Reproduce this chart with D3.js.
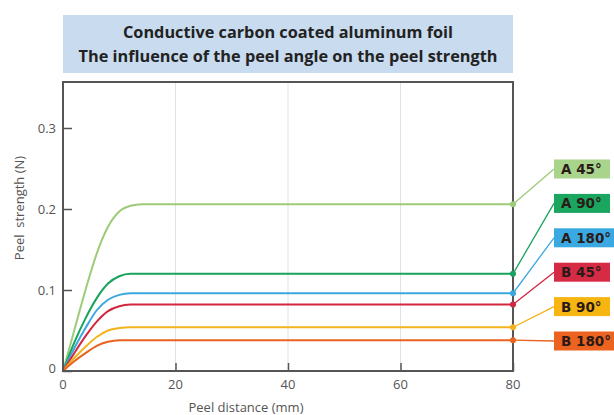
<!DOCTYPE html>
<html>
<head>
<meta charset="utf-8">
<title>Peel strength</title>
<style>
  body { margin: 0; background: #fff; }
  svg { display: block; }
  .tick-label { font-family: "Open Sans", sans-serif; font-size: 13px; fill: #555; }
</style>
</head>
<body>
<svg id="chart" width="614" height="415"></svg>

<script src="https://cdn.jsdelivr.net/npm/d3@7/dist/d3.min.js"></script>
<script>
// data
let distance = [0, 2, 4, 6, 8, 10, 12, 14, 80]
let seriesNames = ["A 45°", "A 90°", "A 180°", "B 45°", "B 90°", "B 180°"]
let a45 = [0, 0.05, 0.1, 0.145, 0.178, 0.197, 0.204, 0.206, 0.206]
let a90 = [0, 0.035, 0.065, 0.09, 0.108, 0.117, 0.12, 0.12, 0.12]
let a180 = [0, 0.028, 0.053, 0.075, 0.088, 0.094, 0.096, 0.096, 0.096]
let b45 = [0, 0.022, 0.043, 0.061, 0.074, 0.08, 0.082, 0.082, 0.082]
let b90 = [0, 0.016, 0.03, 0.042, 0.05, 0.053, 0.054, 0.054, 0.054]
let b180 = [0, 0.012, 0.022, 0.031, 0.036, 0.038, 0.038, 0.038, 0.038]
let xTicks = [0, 20, 40, 60, 80]
let yTicks = [0, 0.1, 0.2, 0.3]
let titleLines = ["Conductive carbon coated aluminum foil", "The influence of the peel angle on the peel strength"]

let lineColors = ["#9dcc78", "#18a35c", "#3aa8df", "#d3263f", "#f4b31a", "#e9621f"]
let boxColors = ["#a8d48c", "#1aa65e", "#3aa9e2", "#d62b45", "#f7b512", "#ec6320"]

let allSeries = [a45, a90, a180, b45, b90, b180].map((vals, i) => ({
  name: seriesNames[i],
  line: lineColors[i],
  box: boxColors[i],
  points: vals.map((v, j) => ({ x: distance[j], y: v }))
}))

let svg = d3.select("#chart")
let plotL = 63, plotR = 513, plotT = 82, plotB = 371

let x = d3.scaleLinear().domain([0, 80]).range([plotL, plotR])
let y = d3.scaleLinear().domain([0, 0.3]).range([plotB, plotB - 243])

// title panel
svg.append("rect").attr("x", plotL).attr("y", 15).attr("width", plotR - plotL).attr("height", 58)
  .attr("fill", "#c8dbef")
svg.append("text").text(titleLines[0]).attr("x", 288).attr("y", 38)
  .attr("text-anchor", "middle").attr("font-family", "Open Sans, sans-serif").attr("font-weight", "bold")
  .attr("font-size", "16px").attr("fill", "#222").attr("textLength", 330).attr("lengthAdjust", "spacingAndGlyphs")
svg.append("text").text(titleLines[1]).attr("x", 288).attr("y", 62)
  .attr("text-anchor", "middle").attr("font-family", "Open Sans, sans-serif").attr("font-weight", "bold")
  .attr("font-size", "16px").attr("fill", "#222").attr("textLength", 419).attr("lengthAdjust", "spacingAndGlyphs")

// vertical grid
svg.append("g").selectAll("line").data(xTicks.slice(1, -1)).join("line")
  .attr("x1", d => x(d)).attr("x2", d => x(d)).attr("y1", plotT).attr("y2", plotB)
  .attr("stroke", "#e2e2e2").attr("stroke-width", 1)

// axes with inward ticks
let xAxis = d3.axisTop(x).tickValues(xTicks).tickSize(8).tickFormat("")
svg.append("g").attr("transform", "translate(0," + plotB + ")").call(xAxis)
  .call(g => g.selectAll(".tick line").attr("stroke", "#555").attr("stroke-width", 1.5))
  .call(g => g.select(".domain").remove())
let yAxis = d3.axisRight(y).tickValues(yTicks).tickSize(9).tickFormat("")
svg.append("g").attr("transform", "translate(" + plotL + ",0)").call(yAxis)
  .call(g => g.selectAll(".tick line").attr("stroke", "#555").attr("stroke-width", 1.5))
  .call(g => g.select(".domain").remove())

svg.append("g").selectAll("text").data(xTicks).join("text")
  .attr("class", "tick-label").attr("x", d => x(d)).attr("y", 389).attr("text-anchor", "middle")
  .text(d => d)
svg.append("g").selectAll("text").data(yTicks).join("text")
  .attr("class", "tick-label").attr("x", 56).attr("y", d => d === 0 ? y(d) + 2 : y(d) + 4.5).attr("text-anchor", "end")
  .text(d => d === 0 ? "0" : d3.format(".1f")(d))

svg.append("text").attr("class", "tick-label").attr("x", 246).attr("y", 412)
  .attr("text-anchor", "middle").text("Peel distance (mm)")
svg.append("text").attr("class", "tick-label").attr("transform", "translate(24,208) rotate(-90)")
  .attr("text-anchor", "middle").text("Peel  strength (N)").style("white-space", "pre")

// curves
let line = d3.line().x(d => x(d.x)).y(d => y(d.y)).curve(d3.curveMonotoneX)
svg.append("g").selectAll("path").data(allSeries).join("path")
  .attr("d", d => line(d.points)).attr("fill", "none")
  .attr("stroke", d => d.line).attr("stroke-width", 2)

// frame
svg.append("rect").attr("x", plotL).attr("y", plotT).attr("width", plotR - plotL).attr("height", plotB - plotT)
  .attr("fill", "none").attr("stroke", "#555").attr("stroke-width", 2)

// legend boxes with leader lines
let boxX = 554, boxTop = 169, boxStep = 34.4
let legend = svg.append("g").selectAll("g").data(allSeries).join("g")
legend.append("line")
  .attr("x1", plotR).attr("y1", d => y(d.points[d.points.length - 1].y))
  .attr("x2", boxX).attr("y2", (d, i) => boxTop + i * boxStep)
  .attr("stroke", d => d.line).attr("stroke-width", 1.3)
legend.append("circle")
  .attr("cx", plotR).attr("cy", d => y(d.points[d.points.length - 1].y)).attr("r", 3)
  .attr("fill", d => d.line)
legend.append("rect")
  .attr("x", boxX).attr("y", (d, i) => boxTop + i * boxStep - 9.5)
  .attr("width", d => d.name.length > 5 ? 60 : 56).attr("height", 19)
  .attr("fill", d => d.box)
legend.append("text")
  .attr("x", boxX + 7).attr("y", (d, i) => boxTop + i * boxStep + 5)
  .attr("font-family", "DejaVu Sans, sans-serif").attr("font-weight", "bold").attr("font-size", "13.5px")
  .attr("fill", "#2a1a18").text(d => d.name)
</script>
</body>
</html>
